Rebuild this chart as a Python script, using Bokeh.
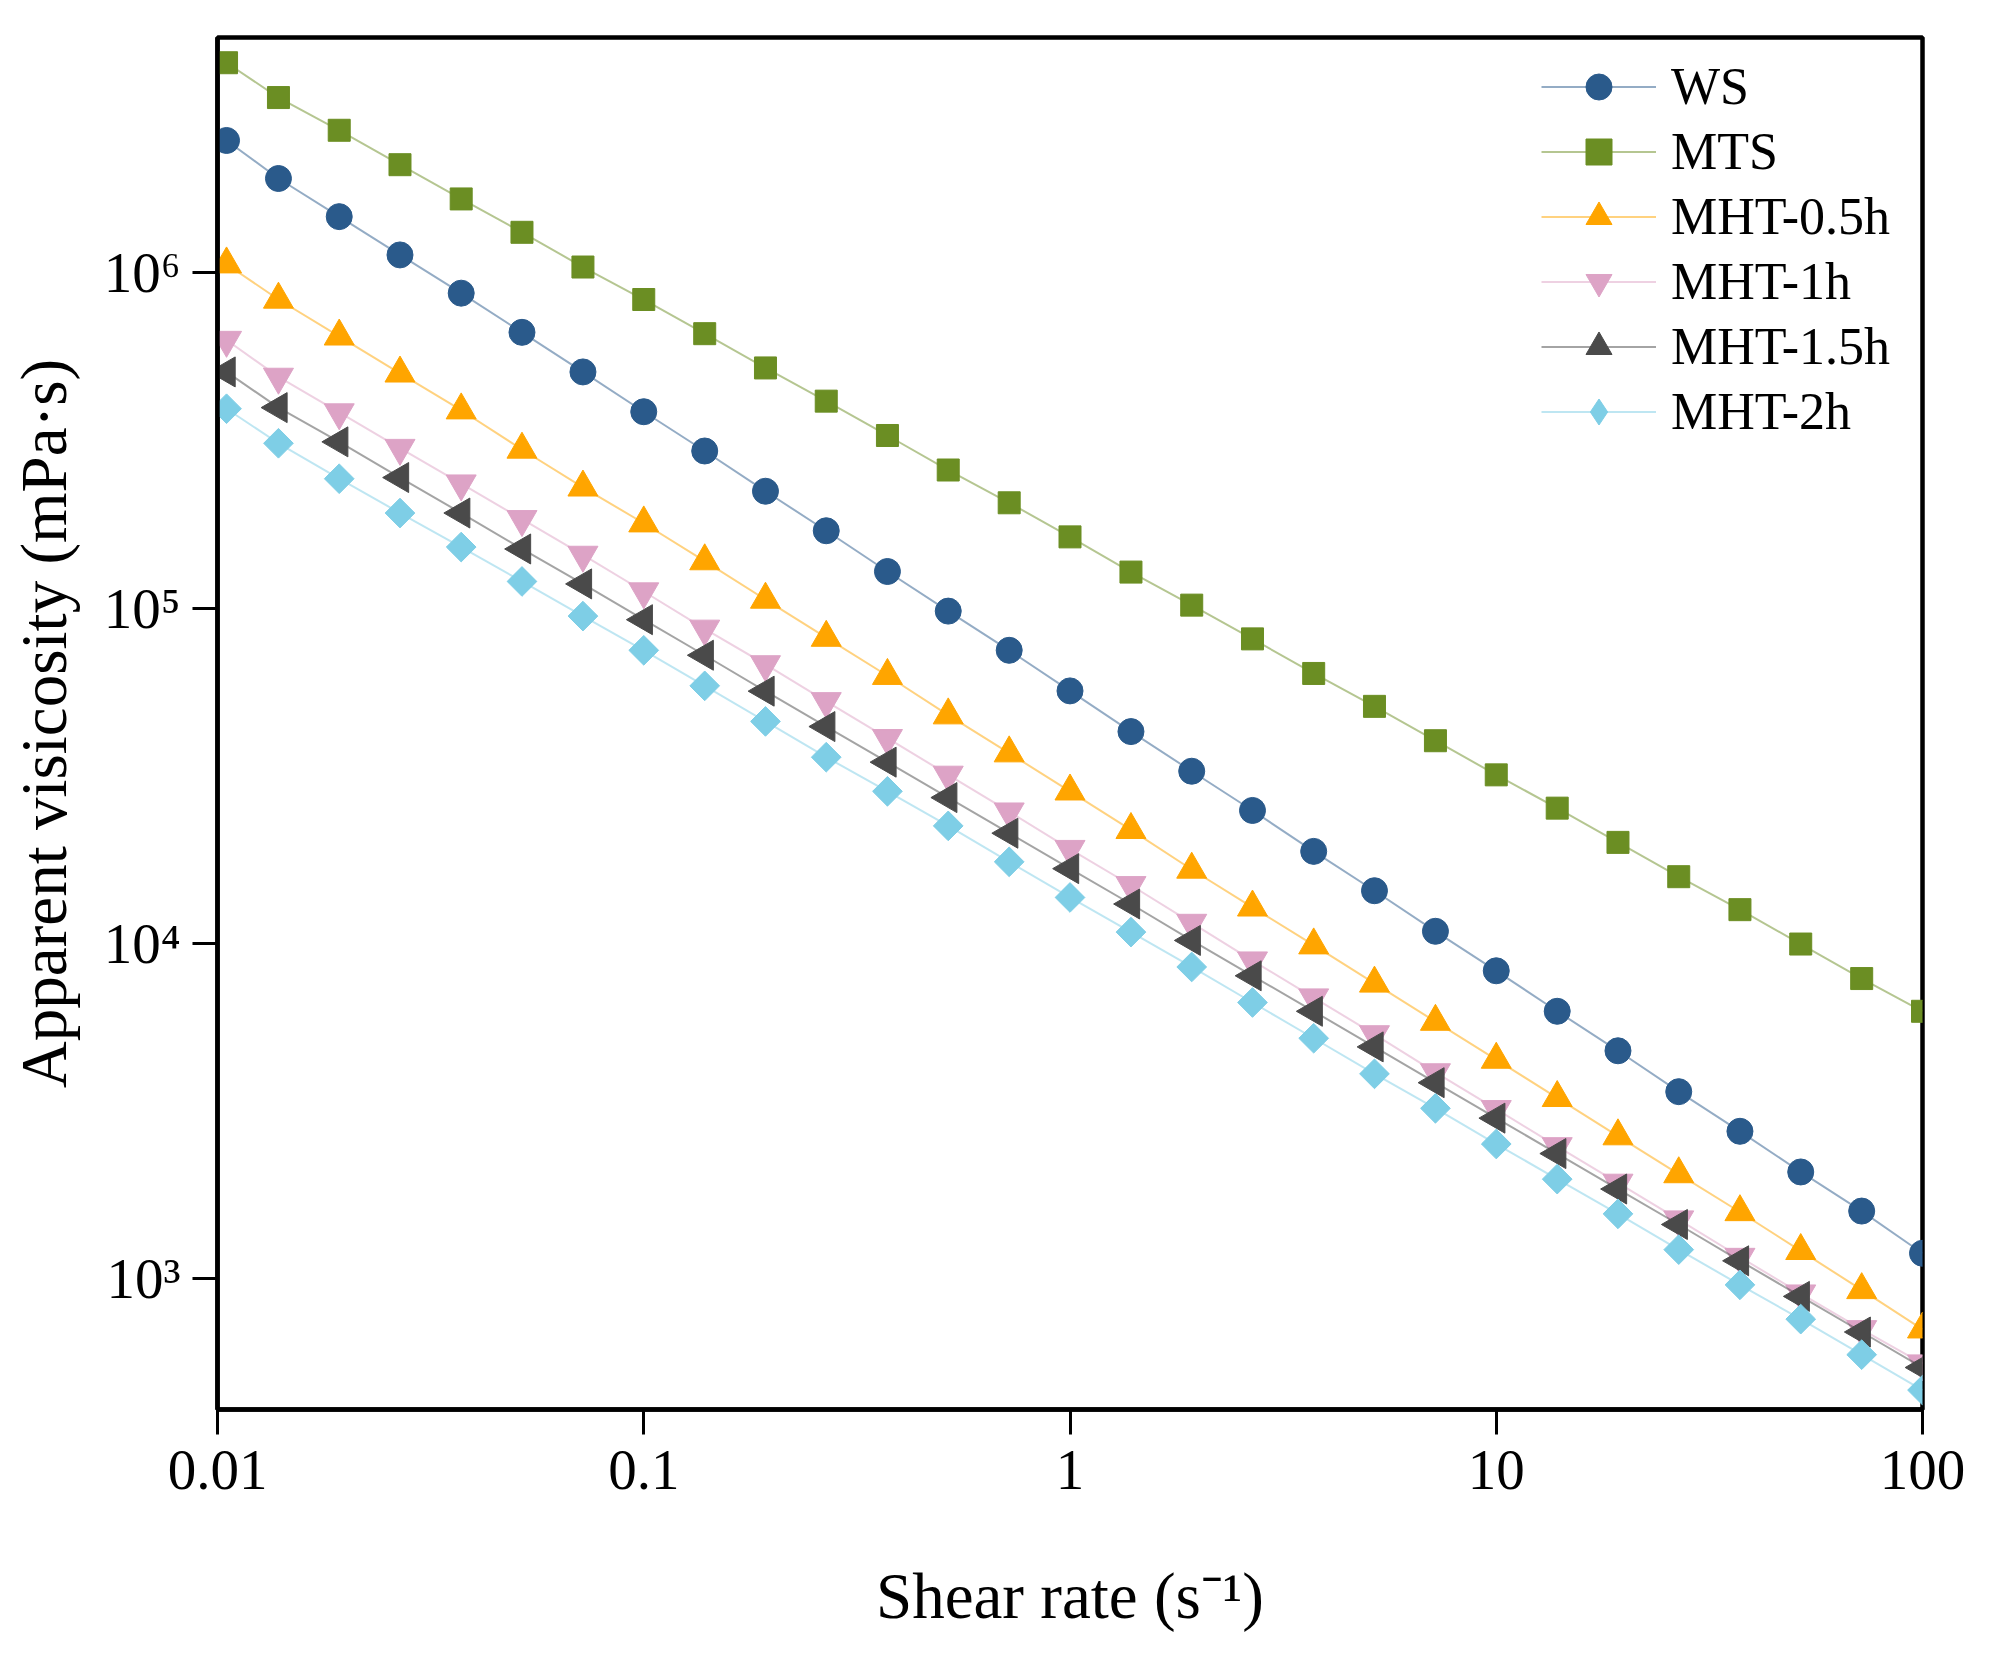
import math
from bokeh.plotting import figure
from bokeh.models import FixedTicker, LegendItem, Legend
from bokeh.embed import file_html
from bokeh.resources import INLINE

# ---- data ----
shear_rate = [0.0105, 0.0139, 0.0193, 0.0268, 0.0373, 0.0518, 0.0720, 0.1,
              0.139, 0.193, 0.268, 0.373, 0.518, 0.720, 1.0,
              1.39, 1.93, 2.68, 3.73, 5.18, 7.20, 10.0,
              13.9, 19.3, 26.8, 37.3, 51.8, 72.0, 100.0]

ws = [2.48e6, 1.91e6, 1.47e6, 1.13e6, 8.69e5, 6.64e5, 5.06e5, 3.85e5,
      2.94e5, 2.23e5, 1.70e5, 1.285e5, 9.79e4, 7.48e4, 5.66e4,
      4.28e4, 3.26e4, 2.49e4, 1.88e4, 1.435e4, 1.086e4, 8.28e3,
      6.27e3, 4.78e3, 3.61e3, 2.75e3, 2.08e3, 1.59e3, 1.19e3]

mts = [4.23e6, 3.33e6, 2.66e6, 2.10e6, 1.66e6, 1.32e6, 1.04e6, 8.32e5,
       6.58e5, 5.20e5, 4.14e5, 3.27e5, 2.58e5, 2.06e5, 1.63e5,
       1.28e5, 1.02e5, 8.09e4, 6.38e4, 5.09e4, 4.02e4, 3.18e4,
       2.53e4, 2.00e4, 1.58e4, 1.26e4, 9.95e3, 7.85e3, 6.27e3]

mht_05h = [1.06e6, 8.32e5, 6.46e5, 5.01e5, 3.89e5, 2.97e5, 2.29e5, 1.79e5,
           1.38e5, 1.06e5, 8.16e4, 6.28e4, 4.79e4, 3.69e4, 2.84e4,
           2.18e4, 1.66e4, 1.28e4, 9.87e3, 7.59e3, 5.84e3, 4.50e3,
           3.46e3, 2.66e3, 2.05e3, 1.58e3, 1.21e3, 9.25e2, 7.06e2]

mht_1h = [6.30e5, 4.89e5, 3.83e5, 3.00e5, 2.35e5, 1.84e5, 1.44e5, 1.12e5,
          8.67e4, 6.79e4, 5.27e4, 4.09e4, 3.18e4, 2.47e4, 1.91e4,
          1.49e4, 1.15e4, 8.88e3, 6.89e3, 5.35e3, 4.12e3, 3.20e3,
          2.48e3, 1.93e3, 1.50e3, 1.16e3, 9.02e2, 7.06e2, 5.58e2]

mht_15h = [5.06e5, 3.96e5, 3.13e5, 2.45e5, 1.92e5, 1.50e5, 1.18e5, 9.23e4,
           7.23e4, 5.65e4, 4.43e4, 3.47e4, 2.72e4, 2.13e4, 1.67e4,
           1.31e4, 1.02e4, 8.00e3, 6.27e3, 4.91e3, 3.84e3, 3.01e3,
           2.36e3, 1.85e3, 1.45e3, 1.13e3, 8.85e2, 6.93e2, 5.43e2]

mht_2h = [3.93e5, 3.10e5, 2.43e5, 1.92e5, 1.52e5, 1.20e5, 9.46e4, 7.48e4,
          5.86e4, 4.59e4, 3.59e4, 2.84e4, 2.24e4, 1.75e4, 1.37e4,
          1.08e4, 8.50e3, 6.66e3, 5.21e3, 4.08e3, 3.22e3, 2.52e3,
          1.98e3, 1.56e3, 1.22e3, 9.58e2, 7.57e2, 5.93e2, 4.65e2]

series_names = ["WS", "MTS", "MHT-0.5h", "MHT-1h", "MHT-1.5h", "MHT-2h"]
series_values = [ws, mts, mht_05h, mht_1h, mht_15h, mht_2h]

x_ticks = [0.01, 0.1, 1, 10, 100]
x_tick_labels = ["0.01", "0.1", "1", "10", "100"]
y_ticks = [1e3, 1e4, 1e5, 1e6]
y_tick_labels = ["10\u00b3", "10\u2074", "10\u2075", "10\u2076"]

# ---- styles ----
styles = [
    dict(marker="circle", color="#2A5A8B", size=26, angle=0.0, legend_marker="circle"),
    dict(marker="square", color="#6B8E23", size=22, angle=0.0, legend_marker="square"),
    dict(marker="triangle", color="#FFA500", size=30, angle=0.0, legend_marker="triangle"),
    dict(marker="inverted_triangle", color="#DDA3C6", size=30, angle=0.0, legend_marker="inverted_triangle"),
    dict(marker="triangle", color="#4A4A4A", size=30, angle=math.pi / 2, legend_marker="triangle"),
    dict(marker="square", color="#7ECEE6", size=21, angle=math.pi / 4, legend_marker="diamond"),
]

FONT = "Liberation Serif"

p = figure(width=1990, height=1650,
           x_axis_type="log", y_axis_type="log",
           x_range=(0.01, 100), y_range=(407, 5.03e6),
           output_backend="svg", toolbar_location=None,
           min_border_left=217, min_border_right=68,
           min_border_top=37, min_border_bottom=241)

p.xgrid.visible = False
p.ygrid.visible = False
p.background_fill_color = "white"
p.border_fill_color = "white"
p.outline_line_color = "black"
p.outline_line_width = 4.5
p.outline_line_alpha = 1.0

items = []
for name, vals, st in zip(series_names, series_values, styles):
    ln = p.line(shear_rate, vals, line_color=st["color"], line_alpha=0.5,
                line_width=2)
    sc = p.scatter(shear_rate, vals, marker=st["marker"], size=st["size"],
                   angle=st["angle"], fill_color=st["color"],
                   line_color=st["color"], line_width=1)
    renderers = [ln]
    if st["legend_marker"] == st["marker"] and st["angle"] == 0.0:
        renderers.append(sc)
    else:
        # hidden twin renderer: the legend cannot rotate markers
        lm = p.scatter(shear_rate, vals, marker=st["legend_marker"], size=st["size"],
                       fill_color=st["color"], line_color=st["color"],
                       line_width=1, visible=False)
        renderers.append(lm)
    items.append(LegendItem(label=name, renderers=renderers))

p.xaxis.ticker = FixedTicker(ticks=x_ticks)
p.yaxis.ticker = FixedTicker(ticks=y_ticks)
p.xaxis.major_label_overrides = {t: l for t, l in zip(x_ticks, x_tick_labels)}
p.yaxis.major_label_overrides = {t: l for t, l in zip(y_ticks, y_tick_labels)}

p.xaxis.axis_label = "Shear rate (s\u207b\u00b9)"
p.yaxis.axis_label = "Apparent visicosity (mPa\u00b7s)"

for ax in (p.xaxis[0], p.yaxis[0]):
    ax.axis_line_width = 4.5
    ax.axis_line_color = "black"
    ax.major_tick_line_width = 3
    ax.major_tick_line_color = "black"
    ax.major_tick_out = 25
    ax.major_tick_in = 0
    ax.minor_tick_line_color = None
    ax.major_label_text_font = FONT
    ax.major_label_text_font_size = "57px"
    ax.major_label_text_color = "black"
    ax.axis_label_text_font = FONT
    ax.axis_label_text_font_size = "65px"
    ax.axis_label_text_font_style = "normal"
    ax.axis_label_text_color = "black"

p.xaxis.major_label_standoff = 16
p.yaxis.major_label_standoff = 12
p.xaxis.axis_label_standoff = 68
p.yaxis.axis_label_standoff = 21

lg = Legend(items=items, location=(1324, 965))
lg.click_policy = "none"
lg.border_line_color = None
lg.background_fill_alpha = 0.0
lg.padding = 0
lg.margin = 0
lg.spacing = 0
lg.glyph_width = 115
lg.glyph_height = 65
lg.label_height = 65
lg.label_standoff = 15
lg.label_text_font = FONT
lg.label_text_font_size = "52px"
lg.label_text_color = "black"
p.add_layout(lg, "center")

open("out.html", "w").write(file_html(p, INLINE))
